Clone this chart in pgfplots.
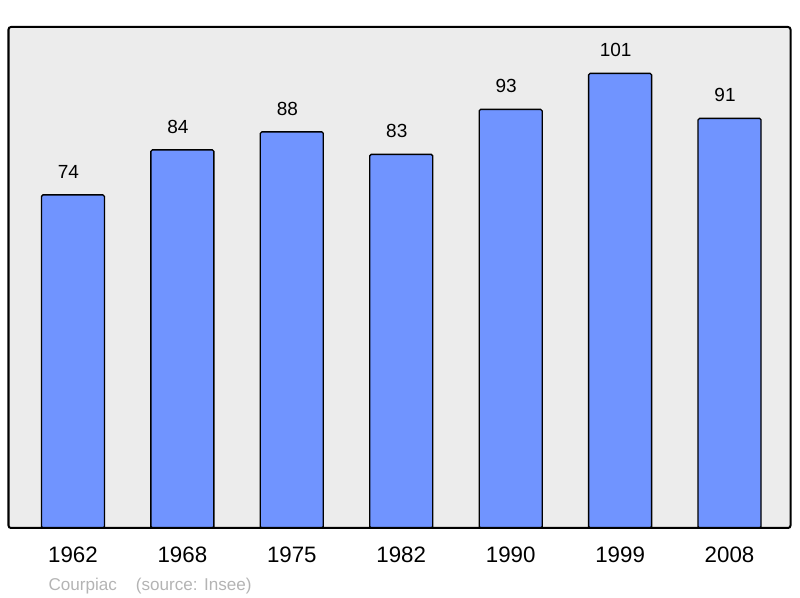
\documentclass[border=0pt]{standalone}
\usepackage{pgfplots}
\pgfplotsset{compat=1.18}
\usepackage{fontspec}
\setmainfont{Liberation Sans}
\definecolor{barblue}{RGB}{112,148,255}
\definecolor{bggray}{RGB}{236,236,236}
\definecolor{srcgray}{RGB}{180,180,180}
\begin{document}
\begin{tikzpicture}
\useasboundingbox (0,0) rectangle (800bp,598bp);
\begin{axis}[
 at={(8.5bp,70bp)}, anchor=south west,
 width=782bp, height=501bp, scale only axis,
 xmin=-0.589, xmax=6.557, ymin=0, ymax=111.3,
 axis line style={draw=none},
 axis background/.style={fill=bggray, rounded corners=2bp},
 ybar, bar width=63bp, bar shift=0pt,
 xtick={0,...,6}, xticklabels={1962,1968,1975,1982,1990,1999,2008},
 ytick=\empty, major tick length=0pt,
 xticklabel style={font=\fontsize{22.3bp}{26bp}\selectfont, yshift=-15.5bp},
 nodes near coords,
 nodes near coords style={font=\fontsize{19bp}{22bp}\selectfont, anchor=base, yshift=16.5bp, xshift=-4.5bp},
 /pgf/number format/assume math mode=true,
 clip=false,
]
\addplot[fill=barblue, draw=black, line width=1.3bp, rounded corners=1.5bp] coordinates {(0,74) (1,84) (2,88) (3,83) (4,93) (5,101) (6,91)};
\draw[line width=2bp, rounded corners=2.5bp] (rel axis cs:0,0) rectangle (rel axis cs:1,1);
\end{axis}
\node[anchor=base west, inner sep=0, text=srcgray, font=\fontsize{17.1bp}{20bp}\selectfont] at (48.3bp,8bp) {Courpiac\hspace{19bp}(source: Insee)};
\end{tikzpicture}
\end{document}
